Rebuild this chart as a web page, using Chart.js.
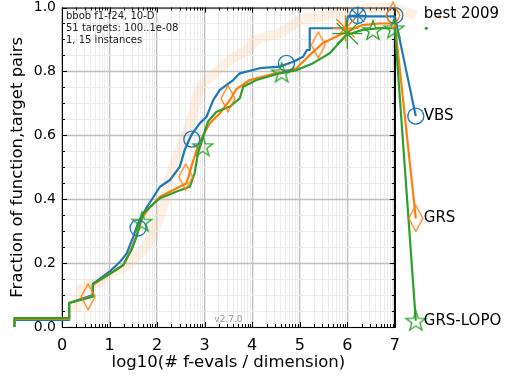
<!DOCTYPE html>
<html>
<head>
<meta charset="utf-8">
<script src="https://cdn.jsdelivr.net/npm/chart.js@4.4.0/dist/chart.umd.min.js"></script>
<style>html,body{margin:0;padding:0;background:#fff}</style>
</head>
<body>
<canvas id="c" width="505" height="379"></canvas>
<script>
// ECDF curves as [log10(evals/dim), fraction]
const vbs = [[-1,0],[-1,0.022],[0.15,0.022],[0.15,0.075],[0.65,0.1],[0.65,0.135],[1.0,0.173],[1.22,0.204],[1.36,0.23],[1.5,0.283],[1.6,0.325],[1.78,0.374],[2.06,0.439],[2.27,0.46],[2.48,0.502],[2.58,0.554],[2.72,0.601],[2.9,0.638],[3.04,0.658],[3.18,0.71],[3.32,0.742],[3.6,0.773],[3.74,0.794],[4.16,0.81],[4.58,0.815],[4.86,0.83],[5.07,0.846],[5.15,0.867],[5.21,0.867],[5.21,0.935],[5.98,0.935],[6.01,0.972],[7,0.972]];
const grs = [[-1,0],[-1,0.025],[0.15,0.025],[0.15,0.075],[0.65,0.097],[0.65,0.132],[1.0,0.166],[1.29,0.194],[1.46,0.245],[1.6,0.3],[1.7,0.345],[1.85,0.375],[2.06,0.408],[2.41,0.434],[2.62,0.45],[2.72,0.502],[2.83,0.554],[2.97,0.601],[3.11,0.638],[3.32,0.669],[3.53,0.71],[3.67,0.745],[3.95,0.773],[4.37,0.789],[4.93,0.81],[5.21,0.851],[5.48,0.888],[5.77,0.909],[5.98,0.924],[6.32,0.945],[6.68,0.95],[7,0.95]];
const grsLopo = [[-1,0],[-1,0.028],[0.15,0.028],[0.15,0.075],[0.65,0.095],[0.65,0.135],[1.0,0.166],[1.29,0.194],[1.46,0.241],[1.57,0.283],[1.64,0.325],[1.71,0.356],[1.81,0.37],[2.06,0.403],[2.41,0.424],[2.69,0.439],[2.79,0.482],[2.86,0.544],[2.97,0.596],[3.07,0.643],[3.25,0.674],[3.53,0.69],[3.74,0.716],[3.81,0.752],[4.09,0.773],[4.58,0.794],[4.93,0.804],[5.27,0.825],[5.63,0.857],[5.98,0.914],[6.32,0.93],[6.68,0.935],[7,0.935]];
const best2009 = [[0.3,0.05],[0.4,0.12],[0.6,0.135],[0.8,0.14],[1.0,0.168],[1.3,0.185],[1.5,0.21],[1.78,0.255],[1.92,0.295],[2.06,0.345],[2.16,0.397],[2.25,0.46],[2.41,0.533],[2.62,0.606],[2.76,0.67],[2.83,0.72],[2.95,0.76],[3.1,0.78],[3.53,0.836],[3.88,0.867],[4.09,0.898],[4.3,0.909],[4.58,0.919],[4.79,0.94],[5.07,0.966],[5.42,0.971],[5.77,0.982],[6.4,0.997],[6.96,1.0]];

// markers
const vbsMarks = [[1.6,0.31],[2.73,0.588],[4.72,0.825],[6.22,0.975],[7.0,0.975]];
const grsMarks = [[0.55,0.095],[2.6,0.47],[3.49,0.715],[5.39,0.883],[6.96,0.975]];
const lopoMarks = [[1.68,0.33],[2.96,0.566],[4.62,0.797],[6.54,0.93],[6.98,0.935]];
const vbsCross = [[6.22,0.975]];
const grsCross = [[5.96,0.935]];
const lopoCross = [[6.0,0.918]];

// labels at the right end
const labelX = 7.44;
const labelNames = ["best 2009", "VBS", "GRS", "GRS-LOPO"];
const labelY = [0.975, 0.66, 0.34, 0.02];
const dotsOrange = [[7.94,0.971]];
const dotsGreen = [[7.66,0.935]];

const xTickLabels = ["0","1","2","3","4","5","6","7"];
const yTickLabels = ["0.0","0.2","0.4","0.6","0.8","1.0"];
const infoLines = ["bbob f1-f24, 10-D", "51 targets: 100..1e-08", "1, 15 instances"];
const xTitle = "log10(# f-evals / dimension)";

const blue = "#1f77b4", orange = "#ff7f0e", green = "#2ca02c";
const pts = a => a.map(p => ({x: p[0], y: p[1]}));

function diamondImg() {
  const c = document.createElement("canvas");
  c.width = 16; c.height = 28;
  const g = c.getContext("2d");
  g.strokeStyle = orange; g.lineWidth = 1.3;
  g.beginPath(); g.moveTo(8,1); g.lineTo(15,14); g.lineTo(8,27); g.lineTo(1,14); g.closePath(); g.stroke();
  return c;
}
function starImg() {
  const c = document.createElement("canvas");
  c.width = 24; c.height = 24;
  const g = c.getContext("2d");
  g.strokeStyle = green; g.lineWidth = 1.3;
  g.beginPath();
  for (let i = 0; i < 10; i++) {
    const r = i % 2 ? 4.2 : 10.5;
    const a = -Math.PI / 2 + i * Math.PI / 5;
    const px = 12 + r * Math.cos(a), py = 13 + r * Math.sin(a);
    i ? g.lineTo(px, py) : g.moveTo(px, py);
  }
  g.closePath(); g.stroke();
  return c;
}
const diamond = diamondImg(), star = starImg();

const line = (data, color, width, order) => ({
  data: pts(data), showLine: true, borderColor: color, borderWidth: width,
  pointRadius: 0, clip: false, order: order
});
const marks = (data, style, color, r, order) => ({
  data: pts(data), showLine: false, pointStyle: style, pointRadius: r,
  borderColor: color, backgroundColor: "rgba(0,0,0,0)", pointBorderWidth: 1.3,
  clip: false, order: order
});

const xTicks = [];
for (let n = 0; n < 7; n++) for (let k = 1; k < 10; k++) xTicks.push({value: n + Math.log10(k)});
xTicks.push({value: 7});
const yTicks = [];
for (let k = 0; k <= 20; k++) yTicks.push({value: k / 20});

const isMajorX = v => Math.abs(v - Math.round(v)) < 1e-9;
const isMajorY = v => Math.abs(v * 5 - Math.round(v * 5)) < 1e-9;

const framePlugin = {
  id: "frame",
  beforeDatasetsDraw(chart) {
    const {ctx, chartArea: a, scales: {x, y}} = chart;
    const right = x.getPixelForValue(7);
    ctx.save();
    // horizontal grid, stopped at x = 7
    yTicks.forEach(t => {
      const py = Math.round(y.getPixelForValue(t.value)) + 0.5;
      ctx.strokeStyle = isMajorY(t.value) ? "#bfbfbf" : "#ececec";
      ctx.lineWidth = isMajorY(t.value) ? 1.3 : 1;
      ctx.beginPath(); ctx.moveTo(a.left, py); ctx.lineTo(right, py); ctx.stroke();
    });
    ctx.strokeStyle = "#000";
    ctx.lineWidth = 1;
    xTicks.forEach(t => {
      const px = Math.round(x.getPixelForValue(t.value)) + 0.5;
      const len = isMajorX(t.value) ? 5 : 3;
      ctx.beginPath();
      ctx.moveTo(px, a.bottom); ctx.lineTo(px, a.bottom - len);
      ctx.moveTo(px, a.top); ctx.lineTo(px, a.top + len);
      ctx.stroke();
    });
    yTicks.forEach(t => {
      const py = Math.round(y.getPixelForValue(t.value)) + 0.5;
      const len = isMajorY(t.value) ? 5 : 3;
      ctx.beginPath();
      ctx.moveTo(a.left, py); ctx.lineTo(a.left + len, py);
      ctx.moveTo(right, py); ctx.lineTo(right - len, py);
      ctx.stroke();
    });
    ctx.strokeRect(a.left + 0.5, a.top + 0.5, right - a.left, a.bottom - a.top);
    ctx.lineWidth = 2;
    ctx.beginPath();
    ctx.moveTo(right, a.top); ctx.lineTo(right, a.bottom);
    ctx.stroke();
    ctx.restore();
  },
  afterDraw(chart) {
    const {ctx, chartArea: a, scales: {x, y}} = chart;
    const right = x.getPixelForValue(7);
    ctx.save();
    ctx.fillStyle = "#222";
    ctx.textBaseline = "middle";
    ctx.font = "10px 'DejaVu Sans'";
    infoLines.forEach((s, i) => ctx.fillText(s, a.left + 4, a.top + 9 + i * 12));
    ctx.fillStyle = "#9a9a9a";
    ctx.font = "9px 'DejaVu Sans'";
    ctx.textAlign = "center";
    ctx.fillText("v2.7.0", x.getPixelForValue(3.5), a.bottom - 7);
    ctx.fillStyle = "#000";
    ctx.font = "16.5px 'DejaVu Sans'";
    ctx.fillText(xTitle, (a.left + right) / 2, a.bottom + 36);
    ctx.textAlign = "left";
    ctx.font = "15px 'DejaVu Sans'";
    labelNames.forEach((s, i) => {
      ctx.fillText(s, x.getPixelForValue(labelX) + 8, y.getPixelForValue(labelY[i]) + (i === 0 ? -1.5 : 0));
    });
    ctx.restore();
  }
};

new Chart(document.getElementById("c"), {
  type: "scatter",
  data: {
    datasets: [
      line(best2009.concat([[labelX, labelY[0]]]), "rgba(247,196,150,0.26)", 10, 20),
      line(vbs.concat([[labelX, labelY[1]]]), blue, 2.2, 6),
      line(grs.concat([[labelX, labelY[2]]]), orange, 2.2, 5),
      line(grsLopo.concat([[labelX, labelY[3]]]), green, 2.2, 4),
      marks(vbsMarks.concat([[labelX, labelY[1]]]), "circle", blue, 8, 3),
      marks(vbsCross, "star", blue, 9, 3),
      marks(grsMarks.concat([[labelX, labelY[2]]]), diamond, orange, 10, 2),
      marks(grsCross, "star", orange, 13, 2),
      marks(lopoMarks.concat([[labelX, labelY[3]]]), star, green, 10, 1),
      marks(lopoCross, "star", green, 15, 1),
      {data: pts(dotsOrange), pointRadius: 1.6, pointBorderWidth: 0, backgroundColor: orange, clip: false, order: 0},
      {data: pts(dotsGreen), pointRadius: 1.6, pointBorderWidth: 0, backgroundColor: green, clip: false, order: 0}
    ]
  },
  options: {
    responsive: false,
    animation: false,
    devicePixelRatio: 1,
    layout: {autoPadding: false, padding: {left: 0, right: 45, top: 7.5, bottom: 0}},
    plugins: {legend: {display: false}, tooltip: {enabled: false}},
    elements: {line: {borderCapStyle: "butt", borderJoinStyle: "round"}},
    scales: {
      x: {
        type: "linear", bounds: "data",
        // axis frame ends at 7, the extra room on the right holds the end labels
        afterDataLimits: s => { s.min = 0; s.max = 8.37; },
        afterBuildTicks: s => { s.ticks = xTicks.map(t => ({value: t.value})); },
        afterFit: s => { s.height = 52; s.paddingLeft = 0; s.paddingRight = 0; },
        border: {display: false},
        grid: {
          drawTicks: false,
          color: c => isMajorX(c.tick.value) ? "#bfbfbf" : "#ececec",
          lineWidth: c => isMajorX(c.tick.value) ? 1.3 : 1
        },
        ticks: {
          autoSkip: false, maxRotation: 0, padding: 9, color: "#000",
          font: {family: "DejaVu Sans", size: 16},
          callback: v => isMajorX(v) ? xTickLabels[Math.round(v)] : ""
        }
      },
      y: {
        type: "linear", bounds: "data",
        afterDataLimits: s => { s.min = 0; s.max = 1; },
        afterBuildTicks: s => { s.ticks = yTicks.map(t => ({value: t.value})); },
        afterFit: s => { s.width = 62; s.paddingTop = 0; s.paddingBottom = 0; },
        border: {display: false},
        grid: {display: false, drawTicks: false},
        ticks: {
          autoSkip: false, padding: 6, color: "#000",
          font: {family: "DejaVu Sans", size: 14},
          callback: v => isMajorY(v) ? yTickLabels[Math.round(v * 5)] : ""
        },
        title: {display: true, text: "Fraction of function,target pairs", color: "#000",
          font: {family: "DejaVu Sans", size: 16.5}, padding: {top: 8, bottom: 0}}
      }
    }
  },
  plugins: [framePlugin]
});
</script>
</body>
</html>
